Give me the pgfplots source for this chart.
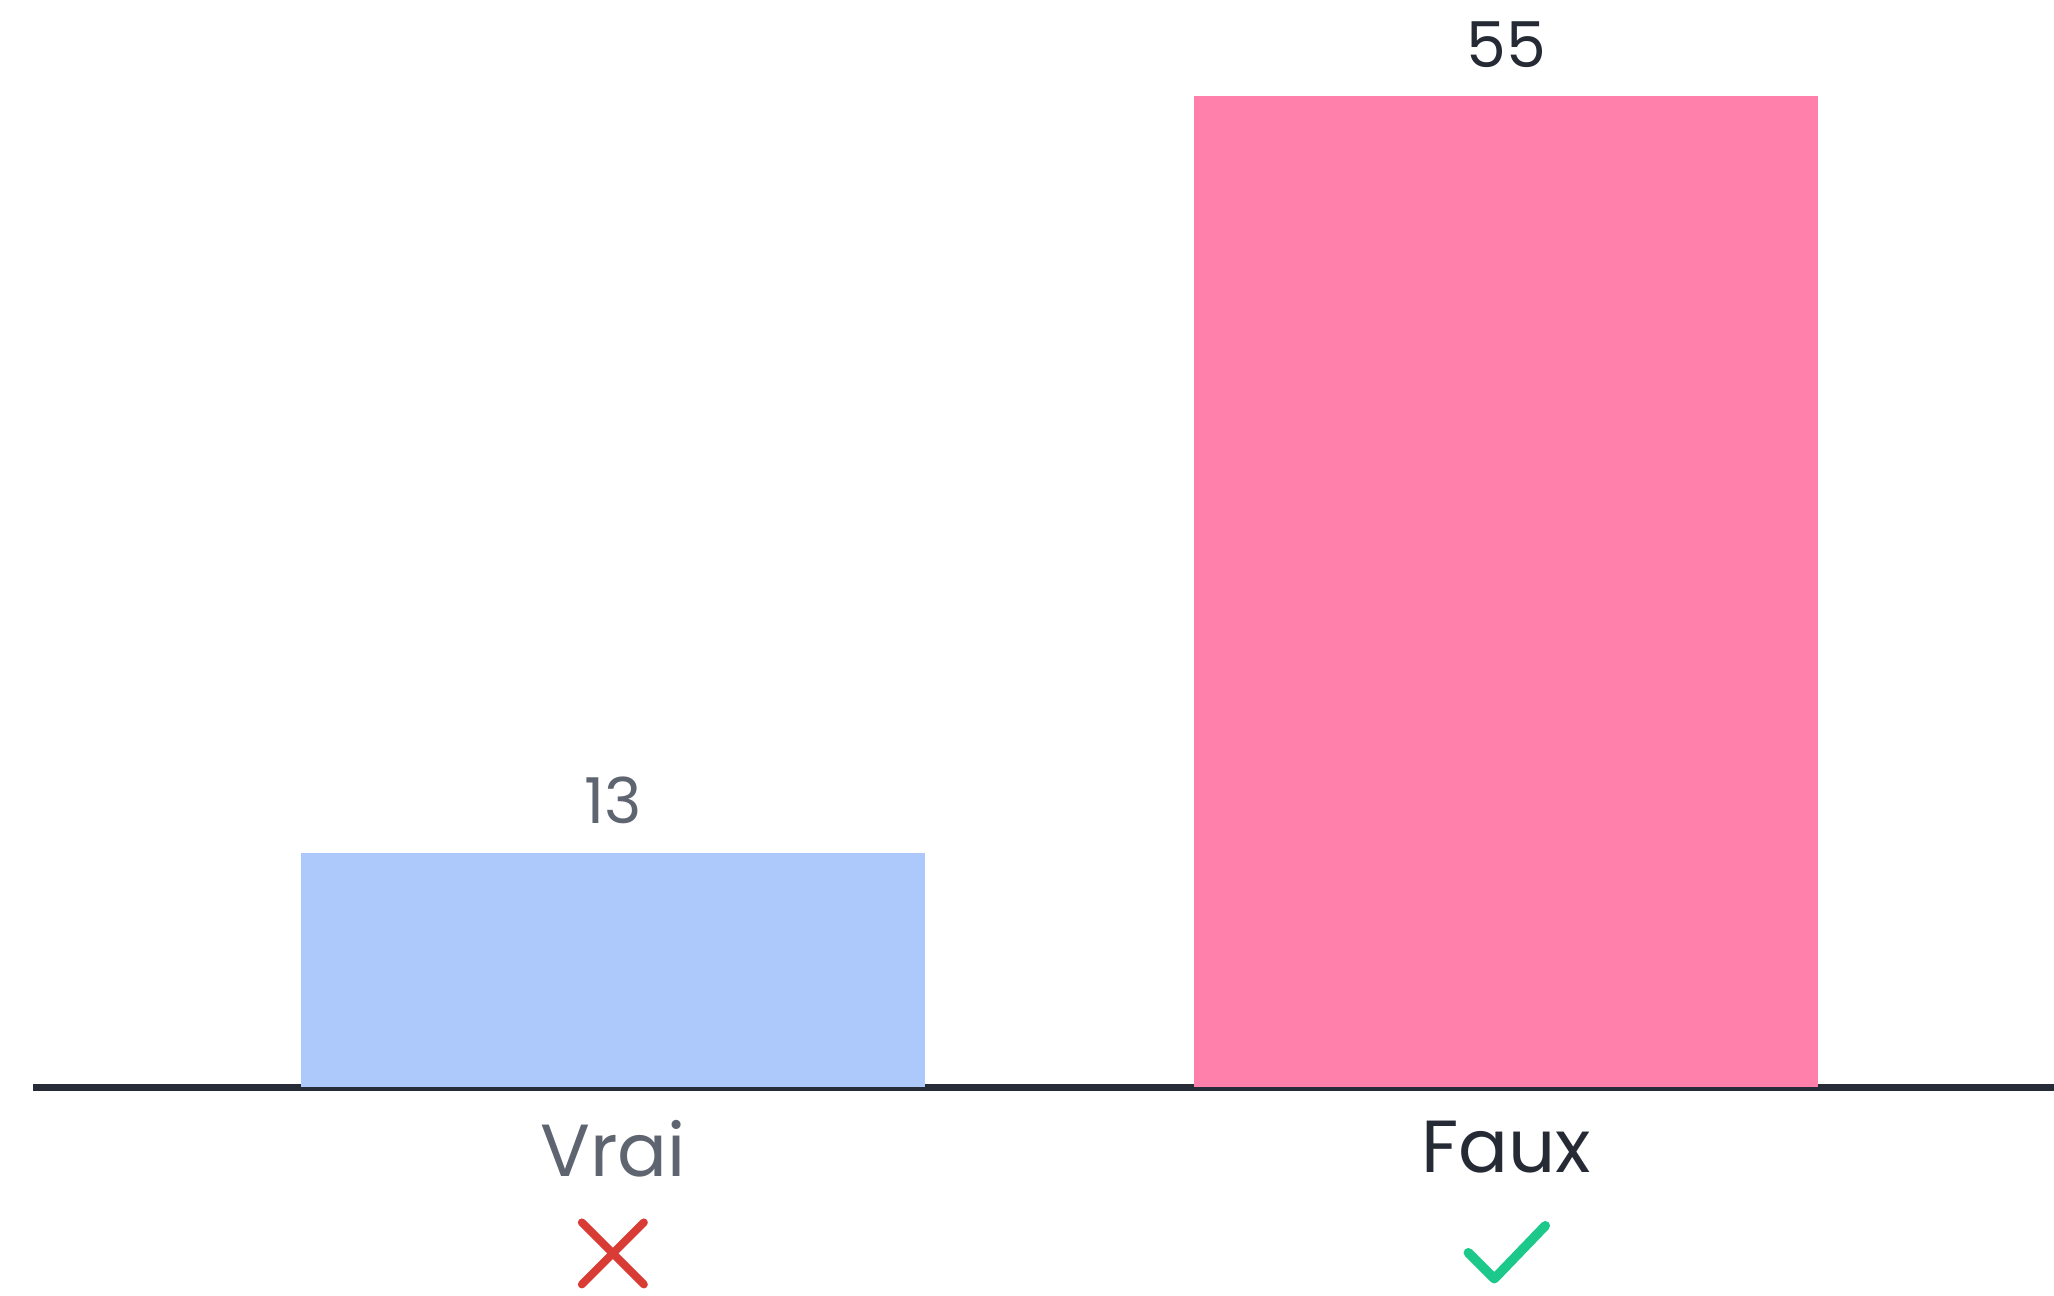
\documentclass[border=0pt]{standalone}
\usepackage{pgfplots}
\pgfplotsset{compat=1.18}
\usepackage{fontspec}
\setmainfont{Poppins}
\definecolor{barblue}{HTML}{ADC9FC}
\definecolor{barpink}{HTML}{FF80AA}
\definecolor{lblgray}{HTML}{5F6570}
\definecolor{lbldark}{HTML}{262A35}
\definecolor{axisdark}{HTML}{272B38}
\definecolor{xred}{HTML}{D93B35}
\definecolor{okgreen}{HTML}{1CC88A}
\newsavebox{\crossbox}
\newsavebox{\checkbox}
\sbox{\crossbox}{\tikz{\path[use as bounding box](0,0) rectangle (0.7cm,0.7cm);
  \draw[xred,line width=0.08cm,line cap=round](0.04cm,0.04cm)--(0.66cm,0.66cm);
  \draw[xred,line width=0.08cm,line cap=round](0.04cm,0.66cm)--(0.66cm,0.04cm);}}
\sbox{\checkbox}{\tikz{\path[use as bounding box](0,0) rectangle (0.86cm,0.63cm);
  \draw[okgreen,line width=0.095cm,line cap=round,line join=round](0.05cm,0.31cm)--(0.31cm,0.05cm)--(0.82cm,0.58cm);}}
\begin{document}
\begin{tikzpicture}
\path[use as bounding box] (0,0) rectangle (20.54cm,12.95cm);
\begin{axis}[
  at={(0.33cm,2.08cm)}, anchor=south west,
  scale only axis, width=20.21cm, height=10.81cm,
  xmin=-0.649, xmax=1.613, ymin=0, ymax=60,
  axis x line=bottom, axis y line=none,
  x axis line style={-, line width=0.07cm, axisdark},
  xtick={0,1}, xticklabels={{\color{lblgray}Vrai\\[0.23cm]\usebox{\crossbox}},{\color{lbldark}Faux\\[0.23cm]\usebox{\checkbox}}},
  major tick length=0pt,
  xticklabel style={font=\fontsize{21}{25.2}\selectfont, align=center, anchor=north, inner sep=0pt, yshift=-0.33cm},
  ybar, bar width=6.24cm,
  /pgf/number format/assume math mode=true,
  nodes near coords,
  every node near coord/.append style={font=\fontsize{18}{21.6}\selectfont, anchor=south, inner sep=0pt, yshift=0.28cm},
  clip=false,
]
\addplot[draw=none, fill=barblue, bar shift=0pt, nodes near coords style={lblgray}] coordinates {(0,13)};
\addplot[draw=none, fill=barpink, bar shift=0pt, nodes near coords style={lbldark}] coordinates {(1,55)};
\end{axis}
\end{tikzpicture}
\end{document}
